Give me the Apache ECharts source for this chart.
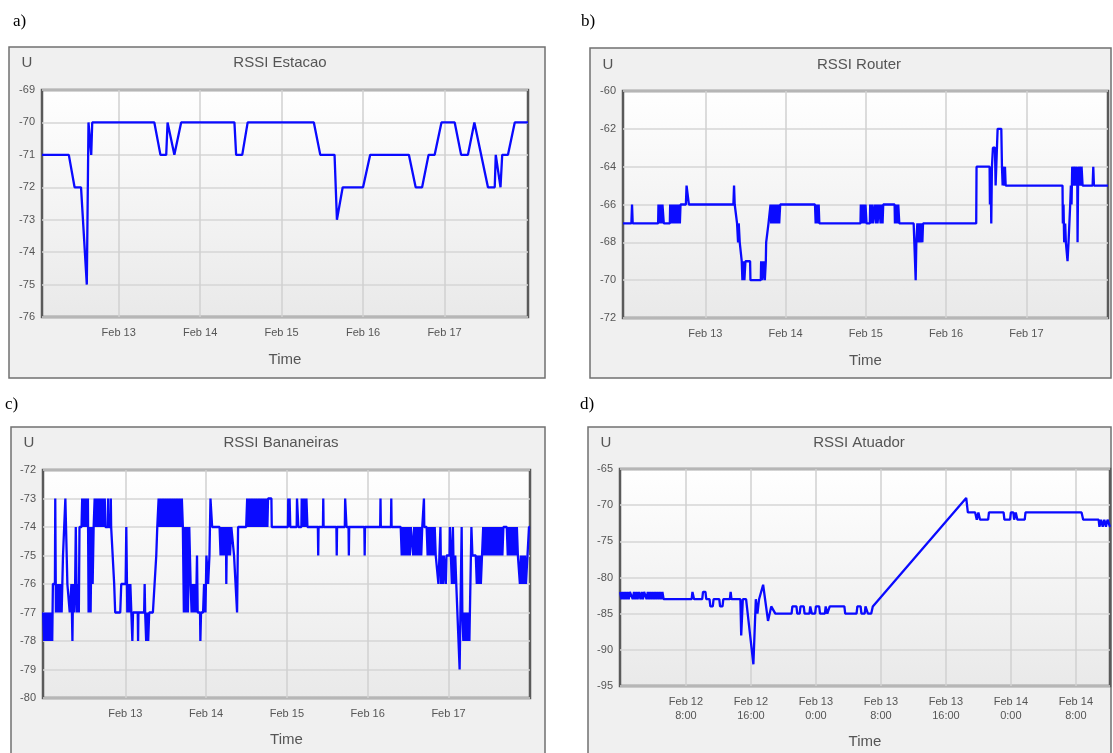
<!DOCTYPE html>
<html>
<head>
<meta charset="utf-8">
<script src="https://cdn.jsdelivr.net/npm/echarts@6/dist/echarts.min.js"></script>
<style>
html, body { margin: 0; padding: 0; background: #ffffff; }
#chart { width: 1113px; height: 753px; }
</style>
</head>
<body>
<div id="chart"></div>
<script>
// Each series: [hours since Feb 12 00:00, RSSI]
const estacao = [
  [1.4,-71],[9.3,-71],[11.0,-72],[12.9,-72],[14.6,-75],[15.1,-70],[15.9,-71],[16.2,-70],
  [34.5,-70],[36.3,-71],[38.0,-71],[38.4,-70],[40.4,-71],[42.4,-70],[58.1,-70],[58.6,-71],
  [60.4,-71],[62.0,-70],[81.5,-70],[83.4,-71],[87.6,-71],[88.3,-73],[90.0,-72],[96.0,-72],
  [98.1,-71],[109.5,-71],[111.5,-72],[113.4,-72],[115.3,-71],[117.1,-71],[119.1,-70],
  [123.0,-70],[124.9,-71],[126.9,-71],[128.8,-70],[132.8,-72],[134.8,-72],[135.1,-71],
  [136.5,-72],[137.0,-71],[138.7,-71],[140.7,-70],[144.6,-70]
];

const router = [
  [-0.6,-67],[1.9,-67],[2.1,-66],[2.3,-67],
  [9.9,-67],[10.0,-66],[10.3,-66],[10.4,-67],[10.6,-66],[10.9,-66],[11.0,-67],[11.2,-66],[11.5,-66],[11.6,-67],
  [13.4,-67],[13.5,-66],[13.8,-66],[13.9,-67],[14.1,-66],[14.3,-67],[14.6,-67],[14.7,-66],[15.0,-67],
  [15.2,-66],[15.4,-67],[15.6,-66],[15.9,-67],[16.1,-66],[16.4,-67],[16.6,-66],
  [18.2,-66],[18.4,-65],[18.9,-65],[19.1,-66],
  [32.4,-66],[32.6,-65],[32.8,-66],
  [33.3,-66],[33.5,-67],[33.8,-68],[34.0,-67],[34.3,-68],[34.6,-68],[34.9,-69],[35.1,-70],[35.4,-69],
  [35.7,-70],[36.0,-69],[37.4,-69],[37.5,-70],[40.6,-70],[40.7,-69],[41.0,-70],[41.4,-69],[41.8,-70],
  [42.1,-69],[42.2,-68],[42.7,-68],[42.9,-67],[43.3,-67],[43.5,-66],[43.7,-67],[44.0,-66],[44.3,-67],
  [44.6,-66],[44.9,-67],[45.2,-66],[45.5,-67],[45.8,-66],[46.1,-67],[46.4,-66],
  [56.8,-66],[57.0,-67],[57.3,-66],[57.6,-67],[57.9,-66],[58.1,-67],
  [70.4,-67],[70.5,-66],[70.9,-67],[71.2,-66],[71.6,-67],[71.9,-66],[72.2,-67],
  [73.2,-67],[73.3,-66],[73.7,-67],[74.0,-66],[74.2,-67],
  [74.7,-67],[74.8,-66],[75.1,-67],[75.4,-66],[75.5,-67],
  [75.9,-67],[76.0,-66],[76.4,-67],[76.7,-66],[77.0,-67],[77.2,-66],
  [80.6,-66],[80.7,-67],[81.0,-66],[81.3,-67],[81.7,-66],[82.0,-67],
  [86.3,-67],[86.5,-68],[86.8,-68],[86.9,-70],[87.1,-68],[87.4,-67],[87.7,-68],[88.0,-67],[88.3,-68],
  [88.6,-67],[88.9,-68],[89.1,-67],
  [105.0,-67],[105.1,-64],
  [109.0,-64],[109.1,-66],[109.3,-64],[109.5,-67],[109.7,-64],[110.0,-63],[110.6,-63],[110.8,-65],
  [111.2,-65],[111.4,-62],[112.5,-62],[112.7,-64],[112.9,-65],[113.1,-64],[113.4,-65],[113.6,-64],[113.8,-65],
  [130.8,-65],[130.9,-67],[131.1,-66],[131.3,-68],[131.6,-67],[131.8,-68],[132.3,-69],[132.6,-68],
  [132.9,-68],[133.1,-66],[133.3,-65],[133.5,-66],[133.7,-64],[134.0,-65],[134.2,-64],[134.5,-65],
  [134.7,-64],[135.0,-65],[135.2,-64],[135.3,-68],[135.5,-64],[135.8,-65],[136.0,-64],[136.3,-65],
  [136.5,-64],[136.8,-65],
  [139.8,-65],[140.0,-64],[140.2,-65],
  [144.4,-65]
];

const bananeiras = [
  [-0.4,-77],[-0.1,-78],[0.2,-77],[0.5,-78],[0.8,-77],[1.1,-78],[1.4,-77],[1.7,-78],[2.0,-77],[2.3,-78],[2.5,-76],
  [3.1,-76],[3.2,-73],[3.4,-77],[3.7,-76],[4.0,-77],[4.3,-76],[4.6,-77],[4.9,-76],[5.1,-77],[5.5,-75],[6.0,-75],
  [6.2,-73],[6.5,-73],[6.8,-76],[7.5,-77],[8.0,-76],[8.3,-78],[8.5,-76],[8.8,-77],[9.1,-76],[9.3,-74],[9.6,-77],
  [9.9,-76],[10.2,-77],[10.4,-74],[11.0,-74],[11.2,-73],
  [11.5,-74],[11.8,-73],[12.1,-74],[12.4,-73],[12.7,-74],[12.9,-73],
  [13.1,-77],[13.4,-74],[13.7,-77],[14.0,-74],[14.3,-76],[14.6,-74],
  [14.9,-73],[15.2,-74],[15.5,-73],[15.8,-74],[16.1,-73],[16.4,-74],[16.7,-73],[17.0,-74],[17.3,-73],[17.5,-74],
  [17.8,-74],[17.9,-73],[18.1,-74],[18.8,-74],[18.9,-73],[19.0,-74],[19.6,-74],[19.7,-73],[19.8,-74],[20.3,-74],
  [20.7,-76],[21.0,-77],[22.5,-77],[22.8,-76],[24.1,-76],[24.3,-74],[24.6,-77],[24.9,-76],[25.2,-77],[25.5,-76],
  [25.8,-77],[26.1,-78],[26.3,-77],[27.7,-77],[27.8,-78],[27.9,-77],[29.6,-77],[29.75,-76],[29.9,-77],[30.2,-78],
  [30.5,-77],[30.8,-78],[31.1,-77],[32.2,-77],[33.2,-75],[33.5,-74],[33.9,-73],
  [34.2,-74],[34.5,-73],[34.9,-74],[35.2,-73],[35.6,-74],[35.9,-73],[36.3,-74],[36.6,-73],[37.0,-74],[37.3,-73],
  [37.7,-74],[38.0,-73],[38.4,-74],[38.7,-73],[39.1,-74],[39.4,-73],[39.8,-74],[40.1,-73],[40.5,-74],[40.8,-73],
  [41.1,-74],[41.4,-77],[41.7,-74],[42.0,-77],[42.3,-74],[42.6,-77],
  [43.0,-74],[43.4,-76],[43.7,-77],[44.0,-76],[44.3,-77],[44.6,-76],[45.0,-77],[45.3,-75],[45.5,-77],[46.2,-77],
  [46.3,-78],[46.5,-77],[47.1,-77],[47.4,-76],[47.8,-77],[48.1,-75],[48.6,-76],[49.0,-75],[49.3,-73],[49.6,-73],[49.8,-74],
  [52.0,-74],[52.3,-75],[52.6,-74],[52.9,-75],[53.2,-74],[53.5,-75],[53.9,-74],[54.0,-76],[54.2,-74],[54.5,-75],
  [54.8,-74],[55.1,-75],[55.5,-74],[56.3,-75],[56.8,-75],[57.2,-77],[57.5,-74],
  [59.9,-74],[60.2,-73],[60.6,-74],[60.9,-73],[61.3,-74],[61.6,-73],[62.0,-74],[62.3,-73],[62.7,-74],[63.0,-73],
  [63.4,-74],[63.7,-73],[64.1,-74],[64.4,-73],[64.8,-74],[65.1,-73],[65.5,-74],[65.8,-73],[66.2,-74],[66.4,-73],
  [67.4,-73],[67.5,-74],
  [72.3,-74],[72.4,-73],[72.7,-74],[72.8,-73],[73.0,-74],[74.9,-74],[75.0,-73],[75.3,-73],[75.4,-74],
  [76.3,-74],[76.4,-73],[76.8,-74],[77.1,-73],[77.5,-74],[77.8,-73],[78.1,-74],[81.2,-74],[81.3,-75],[81.4,-74],
  [82.7,-74],[82.8,-73],[82.9,-74],[86.7,-74],[86.8,-75],[86.9,-74],[89.2,-74],[89.3,-73],[89.6,-73],[89.7,-74],
  [90.3,-74],[90.4,-75],[90.5,-74],[95.0,-74],[95.1,-75],[95.2,-74],[99.7,-74],[99.8,-73],[99.9,-74],
  [102.9,-74],[103.0,-73],[103.1,-74],
  [105.8,-74],[106.1,-75],[106.4,-74],[106.7,-75],[107.0,-74],[107.3,-75],[107.6,-74],[107.9,-75],[108.2,-74],
  [108.5,-75],[108.8,-74],
  [109.2,-74],[109.5,-75],[109.8,-74],[110.1,-75],[110.4,-74],[110.7,-75],[111.0,-74],[111.3,-75],[111.6,-74],
  [111.9,-75],[112.2,-74],[112.6,-74],[112.7,-73],[112.8,-74],[113.5,-74],[113.8,-75],[114.1,-74],[114.4,-75],
  [114.7,-74],[115.0,-75],[115.3,-74],[115.6,-75],[115.9,-74],[116.2,-75],
  [116.7,-75],[117.0,-76],[117.3,-75],[117.6,-74],[117.8,-76],[118.1,-75],[118.4,-76],[118.6,-75],[119.1,-75],
  [119.2,-76],[119.4,-75],[120.3,-75],[120.4,-74],[120.8,-74],[121.0,-76],[121.3,-74],[121.6,-76],[122.0,-75],
  [122.3,-76],[122.6,-76],[123.3,-79],[123.9,-74],[124.1,-77],[124.4,-78],[124.7,-77],[125.0,-78],[125.3,-77],
  [125.6,-78],[125.9,-77],[126.2,-78],[126.6,-78],[126.8,-74],[127.1,-75],[128.1,-75],[128.4,-76],[128.7,-75],
  [129.0,-76],[129.3,-75],[129.6,-76],[130.0,-76],[130.3,-74],
  [130.6,-75],[130.9,-74],[131.2,-75],[131.5,-74],[131.8,-75],[132.1,-74],[132.4,-75],[132.7,-74],[133.0,-75],
  [133.3,-74],[133.6,-75],[133.9,-74],[134.2,-75],[134.5,-74],[134.8,-75],[135.1,-74],[135.4,-75],[135.7,-74],
  [136.0,-75],[136.3,-74],[137.3,-74],
  [137.6,-75],[137.9,-74],[138.2,-75],[138.5,-74],[138.8,-75],[139.1,-74],[139.4,-75],[139.7,-74],[140.0,-75],
  [140.3,-74],[140.6,-75],[140.9,-75],[141.2,-76],[141.5,-75],[141.8,-76],[142.1,-75],[142.4,-76],[142.7,-75],
  [143.0,-76],[143.4,-76],[143.9,-74],[144.2,-74]
];

const atuador = [
  [-0.1,-82],[0.05,-83],[0.2,-82],[0.35,-83],[0.5,-82],[0.65,-83],[0.8,-82],[0.95,-83],[1.1,-82],[1.3,-82],
  [1.45,-83],[1.6,-82],[1.75,-83],[1.9,-82],[2.05,-83],[2.2,-82],[2.4,-83],[2.55,-82],[2.7,-83],[2.85,-82],
  [3.0,-82],[3.15,-83],[3.3,-82],[3.45,-83],[3.6,-82],[3.75,-83],[3.9,-82],[4.05,-83],[4.2,-82],[4.35,-83],
  [4.5,-82],[4.65,-83],[4.8,-82],[4.95,-83],[5.1,-82],[5.25,-83],
  [8.7,-83],[8.8,-82],[9.0,-83],
  [10.0,-83],[10.1,-82],[10.4,-82],[10.5,-83],
  [10.9,-83],[11.0,-84],[11.3,-84],[11.4,-83],
  [12.1,-83],[12.2,-84],[12.5,-84],[12.6,-83],
  [13.4,-83],[13.5,-82],[13.6,-83],
  [14.7,-83],[14.8,-88],[15.0,-83],
  [15.4,-83],[16.3,-92],[16.6,-83],[16.8,-85],[17.0,-83],[17.5,-81],[18.1,-86],[18.5,-84],[19.0,-85],
  [21.0,-85],[21.1,-84],[21.6,-84],[21.7,-85],[22.0,-85],[22.1,-84],[22.5,-84],[22.6,-85],[23.2,-85],
  [23.3,-84],[23.5,-85],[23.9,-85],[24.0,-84],[24.4,-84],[24.5,-85],[25.1,-85],[25.2,-84],[25.4,-85],
  [25.6,-85],[25.7,-84],[26.2,-84],[27.5,-84],[27.6,-85],[29.0,-85],[29.1,-84],[29.5,-84],[29.6,-85],
  [30.0,-85],[30.1,-84],[30.4,-85],[30.8,-85],[31.0,-84],[31.2,-84],
  [42.5,-69],[42.7,-71],[43.6,-71],[43.8,-72],[44.0,-71],[44.2,-72],[45.2,-72],[45.3,-71],[47.1,-71],
  [47.2,-72],[47.9,-72],[48.0,-71],[48.3,-71],[48.4,-72],[48.6,-71],[48.8,-72],[49.7,-72],[49.8,-71],
  [56.7,-71],[56.9,-72],[58.8,-72],[58.9,-73],[59.1,-72],[59.3,-73],[59.5,-72],[59.7,-73],[59.9,-72],[60.2,-73]
];

// Axis ticks and their labels
const dayTicks = [24, 48, 72, 96, 120];
const dayLabels = ['Feb 13', 'Feb 14', 'Feb 15', 'Feb 16', 'Feb 17'];
const hourTicks = [8, 16, 24, 32, 40, 48, 56];
const hourLabels = ['Feb 12\n8:00', 'Feb 12\n16:00', 'Feb 13\n0:00', 'Feb 13\n8:00', 'Feb 13\n16:00', 'Feb 14\n0:00', 'Feb 14\n8:00'];

const titles = ['RSSI Estacao', 'RSSI Router', 'RSSI Bananeiras', 'RSSI Atuador'];
const panelTags = ['a)', 'b)', 'c)', 'd)'];
const unitName = 'U';
const axisName = 'Time';

const FONT = '"Liberation Sans", Arial, sans-serif';
const seriesData = [estacao, router, bananeiras, atuador];

// Panel geometry
const panels = [
  { frame: [9, 47, 536, 331], grid: { left: 42, top: 90, width: 486, height: 227 }, tag: [13, 22], title: [280, 63], unit: [27, 63],
    x: [1.4, 144.6], y: [-76, -69, 1], ticks: dayTicks, labels: dayLabels, nameGap: 35 },
  { frame: [590, 48, 521, 330], grid: { left: 623, top: 91, width: 485, height: 227 }, tag: [581, 22], title: [859, 65], unit: [608, 65],
    x: [-0.6, 144.4], y: [-72, -60, 2], ticks: dayTicks, labels: dayLabels, nameGap: 35 },
  { frame: [11, 427, 534, 340], grid: { left: 43, top: 470, width: 487, height: 228 }, tag: [5, 405], title: [281, 443], unit: [29, 443],
    x: [-0.44, 144.2], y: [-80, -72, 1], ticks: dayTicks, labels: dayLabels, nameGap: 34 },
  { frame: [588, 427, 523, 340], grid: { left: 620, top: 469, width: 490, height: 217 }, tag: [580, 405], title: [859, 443], unit: [606, 443],
    x: [-0.12, 60.2], y: [-95, -65, 5], ticks: hourTicks, labels: hourLabels, nameGap: 48 }
];

const plotBg = new echarts.graphic.LinearGradient(0, 0, 0, 1, [
  { offset: 0, color: '#ffffff' },
  { offset: 1, color: '#e9e9e9' }
]);

const grids = [], xAxes = [], yAxes = [], series = [], graphics = [];

panels.forEach((p, i) => {
  graphics.push({
    type: 'rect', z: -10,
    shape: { x: p.frame[0], y: p.frame[1], width: p.frame[2], height: p.frame[3] },
    style: { fill: '#f0f0f0', stroke: '#707070', lineWidth: 1.5 }
  });
  graphics.push({
    type: 'text', z: 5,
    style: { text: panelTags[i], x: p.tag[0], y: p.tag[1], font: '17px "Liberation Serif", "Times New Roman", serif',
      fill: '#000', textAlign: 'left', textVerticalAlign: 'middle', verticalAlign: 'middle' }
  });
  graphics.push({
    type: 'text', z: 5,
    style: { text: titles[i], x: p.title[0], y: p.title[1], font: '15px ' + FONT,
      fill: '#555', textAlign: 'center', textVerticalAlign: 'middle', verticalAlign: 'middle' }
  });
  graphics.push({
    type: 'text', z: 5,
    style: { text: unitName, x: p.unit[0], y: p.unit[1], font: '15px ' + FONT,
      fill: '#555', textAlign: 'center', textVerticalAlign: 'middle', verticalAlign: 'middle' }
  });

  grids.push(Object.assign({
    show: true, backgroundColor: plotBg, borderColor: '#5a5a5a', borderWidth: 2.5, containLabel: false
  }, p.grid));

  const ticks = p.ticks, labels = p.labels;
  xAxes.push({
    gridIndex: i, type: 'value', min: p.x[0], max: p.x[1],
    name: axisName, nameLocation: 'middle', nameGap: p.nameGap,
    nameTextStyle: { fontFamily: FONT, fontSize: 15, color: '#555' },
    axisLine: { show: false },
    axisTick: { show: false, customValues: ticks },
    axisLabel: {
      customValues: ticks, margin: 9, fontFamily: FONT, fontSize: 11, color: '#555', lineHeight: 14,
      formatter: v => {
        const k = ticks.findIndex(t => Math.abs(t - v) < 1e-6);
        return k >= 0 ? labels[k] : '';
      }
    },
    splitLine: { show: true, lineStyle: { color: '#d0d0d0', width: 1.5 } }
  });
  yAxes.push({
    gridIndex: i, type: 'value', min: p.y[0], max: p.y[1], interval: p.y[2],
    axisLine: { show: false }, axisTick: { show: false },
    axisLabel: { margin: 7, fontFamily: FONT, fontSize: 11, color: '#555' },
    splitLine: { show: true, lineStyle: { color: '#d6d6d6', width: 1.5 } }
  });
  series.push({
    type: 'line', xAxisIndex: i, yAxisIndex: i, data: seriesData[i],
    showSymbol: false, symbol: 'none', clip: true,
    lineStyle: { color: '#0a0aff', width: 2.3 },
    emphasis: { disabled: true }
  });
});

const chart = echarts.init(document.getElementById('chart'), null, { renderer: 'canvas' });
chart.setOption({
  backgroundColor: '#ffffff',
  animation: false,
  grid: grids,
  xAxis: xAxes,
  yAxis: yAxes,
  series: series,
  graphic: graphics
});
</script>
</body>
</html>
